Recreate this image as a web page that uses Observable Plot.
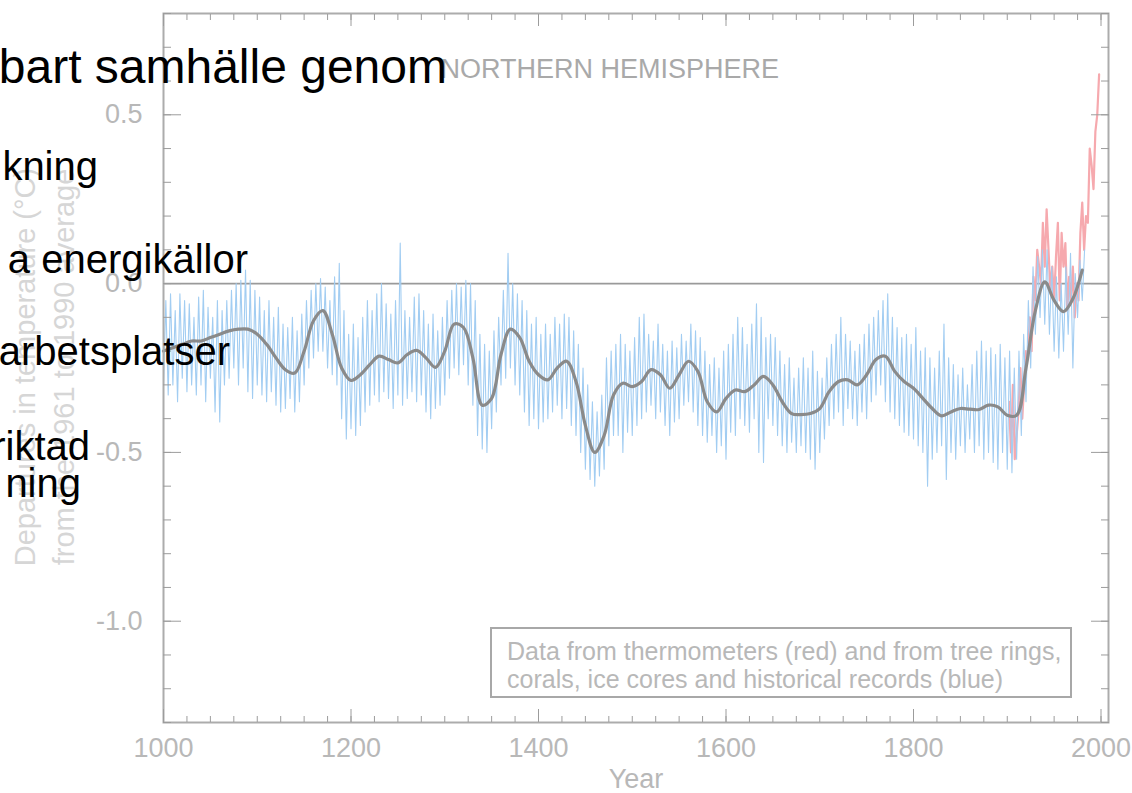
<!DOCTYPE html>
<html><head><meta charset="utf-8">
<script src="https://cdn.jsdelivr.net/npm/d3@7"></script>
<script src="https://cdn.jsdelivr.net/npm/@observablehq/plot@0.6"></script>
<style>
html,body{margin:0;padding:0;background:#fff;}
#wrap{position:relative;width:1132px;height:793px;overflow:hidden;font-family:"Liberation Sans",Arial,sans-serif;}
#wrap > svg{position:absolute;left:0;top:0;}
#legend{position:absolute;left:490px;top:627px;width:582px;height:71px;box-sizing:border-box;border:2px solid #a8a8a8;color:#b8b8b8;font-size:25px;line-height:28px;padding:8px 0 0 15px;white-space:nowrap;}
</style>
</head><body>
<div id="wrap"></div>
<script>
// ---- data ----
const blueStart = 1000, blueStep = 5;
const blueHi = [
 -0.05,-0.03,-0.08,-0.03,-0.05,-0.06,-0.10,-0.04,-0.02,-0.07,
 -0.10,-0.05,-0.08,-0.05,-0.02,0.00,0.01,0.04,0.01,-0.02,
 -0.04,-0.08,-0.05,-0.10,-0.07,-0.12,-0.13,-0.10,-0.14,-0.09,
 -0.05,-0.02,0.00,0.015,-0.01,-0.05,0.02,0.06,-0.08,-0.15,
 -0.12,-0.16,-0.10,-0.05,-0.08,-0.03,0.00,-0.06,-0.09,-0.05,
 0.12,-0.08,-0.10,-0.04,-0.03,-0.08,-0.12,-0.09,-0.14,-0.10,
 -0.05,-0.02,0.00,-0.01,0.01,0.00,-0.05,-0.15,-0.18,-0.20,
 -0.14,-0.10,-0.02,0.09,0.00,-0.03,-0.05,-0.08,-0.12,-0.10,
 -0.15,-0.12,-0.15,-0.10,-0.12,-0.09,-0.10,-0.14,-0.18,-0.25,
 -0.30,-0.35,-0.38,-0.33,-0.22,-0.20,-0.18,-0.15,-0.18,-0.20,
 -0.16,-0.10,-0.09,-0.15,-0.17,-0.12,-0.18,-0.20,-0.17,-0.19,
 -0.15,-0.17,-0.12,-0.14,-0.16,-0.20,-0.24,-0.22,-0.25,-0.20,
 -0.18,-0.15,-0.10,-0.13,-0.18,-0.12,-0.06,-0.10,-0.16,-0.15,
 -0.16,-0.20,-0.24,-0.22,-0.28,-0.25,-0.22,-0.25,-0.20,-0.26,
 -0.28,-0.22,-0.18,-0.15,-0.10,-0.15,-0.17,-0.20,-0.18,-0.15,
 -0.12,-0.10,-0.08,-0.05,-0.03,-0.10,-0.13,-0.16,-0.15,-0.18,
 -0.13,-0.20,-0.19,-0.22,-0.25,-0.20,-0.12,-0.22,-0.24,-0.27,
 -0.25,-0.30,-0.24,-0.20,-0.17,-0.20,-0.19,-0.21,-0.18,-0.22,
 -0.20,-0.25,-0.20,-0.15,-0.05,0.05,0.08,0.10,0.10,0.05,
 0.02,0.00,0.05,0.09,0.03,0.07,0.10
];
const blueLo = [
 -0.30,-0.33,-0.30,-0.35,-0.28,-0.32,-0.30,-0.33,-0.30,-0.35,
 -0.28,-0.38,-0.41,-0.30,-0.28,-0.25,-0.30,-0.25,-0.32,-0.34,
 -0.30,-0.33,-0.35,-0.32,-0.36,-0.38,-0.37,-0.34,-0.38,-0.35,
 -0.30,-0.25,-0.22,-0.20,-0.20,-0.25,-0.27,-0.30,-0.40,-0.46,
 -0.43,-0.45,-0.42,-0.38,-0.36,-0.33,-0.35,-0.32,-0.34,-0.37,
 -0.33,-0.36,-0.34,-0.32,-0.35,-0.33,-0.38,-0.40,-0.37,-0.36,
 -0.33,-0.28,-0.25,-0.27,-0.24,-0.30,-0.36,-0.45,-0.49,-0.50,
 -0.43,-0.38,-0.30,-0.28,-0.25,-0.30,-0.33,-0.38,-0.42,-0.40,
 -0.43,-0.41,-0.40,-0.38,-0.36,-0.40,-0.37,-0.42,-0.45,-0.50,
 -0.55,-0.58,-0.60,-0.57,-0.55,-0.48,-0.45,-0.45,-0.50,-0.44,
 -0.45,-0.42,-0.40,-0.38,-0.36,-0.40,-0.38,-0.42,-0.45,-0.41,
 -0.40,-0.36,-0.35,-0.38,-0.42,-0.45,-0.47,-0.45,-0.50,-0.48,
 -0.52,-0.44,-0.45,-0.40,-0.42,-0.44,-0.40,-0.50,-0.53,-0.40,
 -0.42,-0.45,-0.48,-0.50,-0.47,-0.50,-0.48,-0.50,-0.52,-0.55,
 -0.50,-0.46,-0.42,-0.40,-0.38,-0.42,-0.37,-0.40,-0.42,-0.38,
 -0.40,-0.35,-0.33,-0.30,-0.35,-0.38,-0.40,-0.42,-0.44,-0.45,
 -0.46,-0.48,-0.50,-0.60,-0.52,-0.50,-0.48,-0.58,-0.50,-0.52,
 -0.48,-0.50,-0.46,-0.50,-0.48,-0.52,-0.50,-0.53,-0.55,-0.50,
 -0.55,-0.56,-0.52,-0.45,-0.35,-0.25,-0.15,-0.10,-0.12,-0.15,
 -0.20,-0.22,-0.20,-0.15,-0.25,-0.10,-0.05
];
const smoothStart = 1000, smoothStep = 10;
const smoothVals = [
 -0.20,-0.19,-0.18,-0.17,-0.17,-0.16,-0.15,-0.14,-0.135,-0.135,
 -0.15,-0.18,-0.22,-0.255,-0.265,-0.20,-0.11,-0.08,-0.15,-0.25,
 -0.287,-0.27,-0.24,-0.215,-0.225,-0.235,-0.21,-0.198,-0.22,-0.248,
 -0.20,-0.12,-0.13,-0.22,-0.36,-0.34,-0.21,-0.135,-0.16,-0.23,
 -0.27,-0.285,-0.25,-0.23,-0.29,-0.42,-0.50,-0.45,-0.33,-0.295,
 -0.305,-0.29,-0.255,-0.27,-0.31,-0.27,-0.23,-0.26,-0.35,-0.38,
 -0.34,-0.315,-0.32,-0.30,-0.275,-0.30,-0.35,-0.385,-0.388,-0.385,
 -0.37,-0.32,-0.29,-0.285,-0.30,-0.27,-0.225,-0.215,-0.26,-0.29,
 -0.31,-0.34,-0.37,-0.392,-0.38,-0.37,-0.372,-0.373,-0.36,-0.365,
 -0.39,-0.39,-0.25,-0.08,0.005,-0.05,-0.083,-0.045,0.04
];
const redStart = 1902, redStep = 2;
const redVals = [
 -0.35,-0.50,-0.30,-0.52,-0.45,-0.38,-0.25,-0.40,-0.30,-0.20,
 -0.22,-0.10,-0.20,0.02,-0.05,0.10,0.05,0.00,0.18,0.05,
 0.22,0.10,-0.02,0.05,-0.05,0.08,0.18,-0.05,0.15,0.05,
 0.12,-0.08,0.02,-0.05,0.05,-0.10,0.00,-0.05,0.15,0.24,
 0.10,0.20,0.18,0.40,0.35,0.28,0.45,0.50,0.62
];
const xLabelTicks = [1000, 1200, 1400, 1600, 1800, 2000];
const xMinorTicks = d3.range(1000, 2001, 25);
const yLabelTicks = [-1.0, -0.5, 0.0, 0.5];
const yMinorTicks = d3.range(-13, 9).map(d => d / 10);
const chartTitle = "NORTHERN HEMISPHERE";
const xTitle = "Year";
const yTitle = ["Departures in temperature (°C)", "from the 1961 to 1990 average"];
const legendLines = ["Data from thermometers (red) and from tree rings,", "corals, ice cores and historical records (blue)"];
const slideLines = ["bart samhälle genom", "kning", "a energikällor", "arbetsplatser", "riktad", "ning"];

// ---- build tables ----
const bluePts = [];
blueHi.forEach((h, i) => {
  const yr = blueStart + i * blueStep;
  bluePts.push({year: yr, v: blueLo[i]});
  bluePts.push({year: yr + blueStep / 2, v: h});
});
const smoothPts = smoothVals.map((v, i) => ({year: smoothStart + i * smoothStep, v}));
const redPts = redVals.map((v, i) => ({year: redStart + i * redStep, v}));

const tickColor = "#9c9c9c", labelColor = "#b8b8b8";
const noText = () => "";

const chart = Plot.plot({
  width: 1132, height: 793,
  marginLeft: 163, marginRight: 24, marginTop: 13, marginBottom: 71,
  x: {domain: [1000, 2008], axis: null},
  y: {domain: [-1.3, 0.8], axis: null},
  style: {fontFamily: "'Liberation Sans', Arial, sans-serif", background: "white"},
  marks: [
    Plot.ruleY([0], {stroke: "#9a9a9a", strokeWidth: 1.8}),
    Plot.line(redPts, {x: "year", y: "v", stroke: "#f6a9ae", strokeWidth: 2.2}),
    Plot.line(bluePts, {x: "year", y: "v", stroke: "#a2cdf2", strokeWidth: 1.1}),
    Plot.line(smoothPts, {x: "year", y: "v", stroke: "#8a8a8a", strokeWidth: 3.2, curve: "catmull-rom"}),
    Plot.frame({stroke: "#acacac", strokeWidth: 2}),
    // inward ticks
    Plot.axisX({anchor: "bottom", ticks: xMinorTicks, tickSize: 6, dy: -6, tickFormat: noText, color: tickColor, label: null}),
    Plot.axisX({anchor: "bottom", ticks: xLabelTicks, tickSize: 13, dy: -13, tickFormat: noText, color: tickColor, label: null}),
    Plot.axisX({anchor: "top", ticks: xMinorTicks, tickSize: 6, dy: 6, tickFormat: noText, color: tickColor, label: null}),
    Plot.axisX({anchor: "top", ticks: xLabelTicks, tickSize: 12, dy: 12, tickFormat: noText, color: tickColor, label: null}),
    Plot.axisY({anchor: "left", ticks: yMinorTicks, tickSize: 8, dx: 8, tickFormat: noText, color: tickColor, label: null}),
    Plot.axisY({anchor: "left", ticks: yLabelTicks, tickSize: 18, dx: 18, tickFormat: noText, color: tickColor, label: null}),
    Plot.axisY({anchor: "right", ticks: yMinorTicks, tickSize: 8, dx: -8, tickFormat: noText, color: tickColor, label: null}),
    Plot.axisY({anchor: "right", ticks: yLabelTicks, tickSize: 18, dx: -18, tickFormat: noText, color: tickColor, label: null}),
    // labels
    Plot.axisX({anchor: "bottom", ticks: xLabelTicks, tickSize: 0, tickPadding: 15, tickFormat: d => String(d), fontSize: 27, color: labelColor, label: null}),
    Plot.axisY({anchor: "left", ticks: yLabelTicks, tickSize: 0, tickPadding: 21, tickFormat: d => d.toFixed(1), fontSize: 27, color: labelColor, label: null}),
    Plot.text([chartTitle], {frameAnchor: "top-left", dx: 277, dy: 45, textAnchor: "start", lineAnchor: "top", fontSize: 27, fill: "#a9a9a9"}),
    Plot.text([xTitle], {frameAnchor: "bottom", dy: 46, lineAnchor: "top", fontSize: 27, fill: labelColor})
  ]
});

const wrap = document.getElementById("wrap");
wrap.appendChild(chart);

const legend = document.createElement("div");
legend.id = "legend";
legend.innerHTML = legendLines.map(s => `<div>${s}</div>`).join("");
wrap.appendChild(legend);

// overlay: rotated y title and the slide text (cut off at the left edge as in the picture)
const ov = d3.create("svg").attr("width", 1132).attr("height", 793)
  .style("font-family", "'Liberation Sans', Arial, sans-serif").style("pointer-events", "none");
const yTitleLayout = [{x: 25, y: 367}, {x: 64, y: 367}];
ov.selectAll("text.yt").data(yTitle).join("text").attr("class", "yt")
  .attr("transform", (d, i) => `translate(${yTitleLayout[i].x},${yTitleLayout[i].y}) rotate(-90)`)
  .attr("text-anchor", "middle").attr("dy", "0.35em")
  .attr("font-size", 29).attr("fill", "#d6d6d6")
  .text(d => d);
const slideLayout = [
  {size: 48, right: 447, base: 83},
  {size: 40, right: 98, base: 180},
  {size: 40, right: 248, base: 273},
  {size: 40, right: 230, base: 365},
  {size: 40, right: 90, base: 460},
  {size: 40, right: 81, base: 497}
];
ov.selectAll("text.sl").data(slideLines).join("text").attr("class", "sl")
  .attr("x", (d, i) => slideLayout[i].right)
  .attr("y", (d, i) => slideLayout[i].base)
  .attr("text-anchor", "end")
  .attr("font-size", (d, i) => slideLayout[i].size)
  .attr("fill", "#000")
  .text(d => d);
wrap.appendChild(ov.node());
</script>
</body></html>
